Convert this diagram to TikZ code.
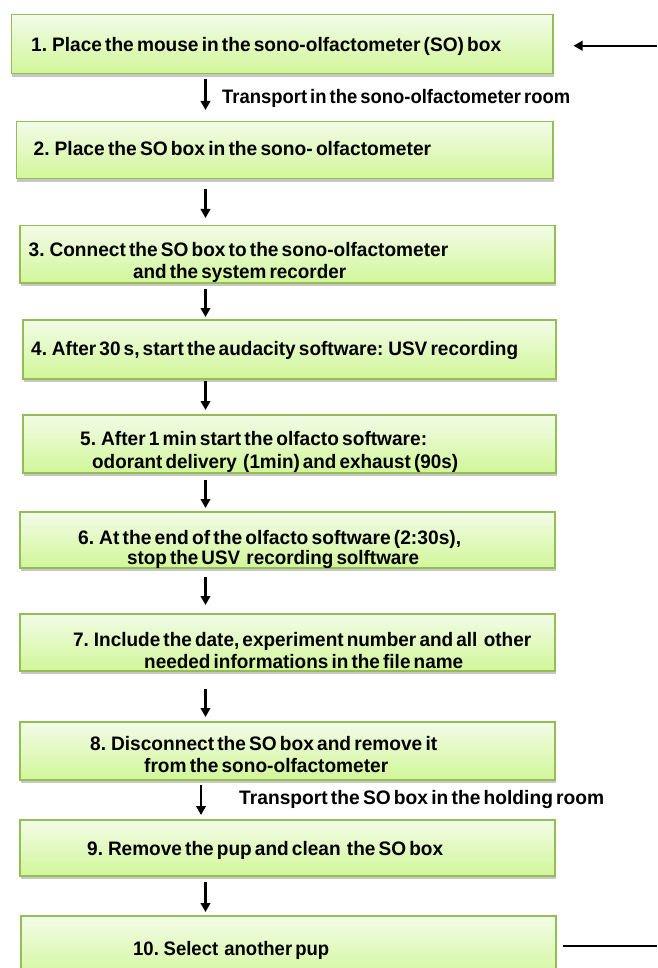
\documentclass[tikz,border=0pt]{standalone}
\usepackage{fontspec}
\setmainfont{Liberation Sans}[WordSpace=0.6]
\usetikzlibrary{arrows.meta,shadows,calc}
\newsavebox\fitbox
\newcommand\fitto[2]{\sbox\fitbox{#2}\pgfmathsetmacro\fitfac{#1/\the\wd\fitbox}\scalebox{\fitfac}[1]{\usebox\fitbox}}
\definecolor{boxtop}{HTML}{F2FCE8}
\definecolor{boxbot}{HTML}{D2F699}
\definecolor{boxline}{HTML}{93BD55}
\tikzset{
  stepbox/.style={rectangle, draw=boxline, line width=1.5pt, top color=boxtop, bottom color=boxbot,
    inner sep=0pt, anchor=north west,
    drop shadow={shadow xshift=1pt, shadow yshift=-3pt, fill=black, opacity=0.22}},
  txt/.style={inner sep=0pt, anchor=base west, font=\fontsize{19.5}{22}\selectfont\bfseries},
  arr/.style={line width=2.4pt, -{Triangle[length=9pt,width=9.5pt]}},
  back/.style={line width=2.4pt}
}
\begin{document}
\begin{tikzpicture}[x=1pt,y=-1pt]
\useasboundingbox[fill=white] (0,0) rectangle (657,968);
\coordinate (edge) at (657,0);
\coordinate (ax) at (205.5,0);
\coordinate (bx) at (201,0);
% boxes
\node[stepbox, minimum width=541.5, minimum height=59] (b1) at (10.5,14) {};
\node[stepbox, minimum width=536.5, minimum height=57] (b2) at (15.5,121) {};
\node[stepbox, minimum width=535, minimum height=57] (b3) at (19,225) {};
\node[stepbox, minimum width=533, minimum height=59] (b4) at (22,319) {};
\node[stepbox, minimum width=533, minimum height=58] (b5) at (22,414) {};
\node[stepbox, minimum width=535, minimum height=56] (b6) at (19,511) {};
\node[stepbox, minimum width=535, minimum height=57] (b7) at (19,613) {};
\node[stepbox, minimum width=535, minimum height=58] (b8) at (19,721) {};
\node[stepbox, minimum width=535, minimum height=56] (b9) at (19,819) {};
\node[stepbox, minimum width=535, minimum height=66] (b10) at (20,915) {};
% texts
\node[txt] (t1) at (31,52) {\fitto{470}{1. Place the mouse in the sono-olfactometer (SO) box}};
\node[txt] (l1) at (222,104) {\fitto{348}{Transport in the sono-olfactometer room}};
\node[txt] (t2) at (33.5,156) {\fitto{397.5}{2. Place the SO box in the sono- olfactometer}};
\node[txt] (t3a) at (28.5,256) {\fitto{419.5}{3. Connect the SO box to the sono-olfactometer}};
\node[txt] (t3b) at (133,278) {\fitto{213}{and the system recorder}};
\node[txt] (t4) at (31,355) {\fitto{487}{4. After 30 s, start the audacity software: USV recording}};
\node[txt] (t5a) at (80,445) {\fitto{347}{5. After 1 min start the olfacto software:}};
\node[txt] (t5b) at (92,468) {\fitto{366}{odorant delivery\ \ (1min) and exhaust (90s)}};
\node[txt] (t6a) at (78,544) {\fitto{383}{6. At the end of the olfacto software (2:30s),}};
\node[txt] (t6b) at (127,564) {\fitto{292}{stop the USV\ \ recording solftware}};
\node[txt] (t7a) at (73,646) {\fitto{458}{7. Include the date, experiment number and all\ \ other}};
\node[txt] (t7b) at (144,668) {\fitto{319}{needed informations in the file name}};
\node[txt] (t8a) at (90,750) {\fitto{347}{8. Disconnect the SO box and remove it}};
\node[txt] (t8b) at (144,772) {\fitto{244}{from the sono-olfactometer}};
\node[txt] (l2) at (239,804) {\fitto{365}{Transport the SO box in the holding room}};
\node[txt] (t9) at (87,855) {\fitto{356}{9. Remove the pup and clean\ \ the SO box}};
\node[txt] (t10) at (133,955) {\fitto{196}{10. Select\ \ another pup}};
% connectors
\draw[arr] ([yshift=-5pt]b1.south -| ax) -- ([yshift=11pt]b2.north -| ax);
\draw[arr] ([yshift=-10pt]b2.south -| ax) -- ([yshift=7pt]b3.north -| ax);
\draw[arr] ([yshift=-5pt]b3.south -| ax) -- ([yshift=2pt]b4.north -| ax);
\draw[arr] ([yshift=-1.5pt]b4.south -| ax) -- ([yshift=4pt]b5.north -| ax);
\draw[arr] ([yshift=-6pt]b5.south -| ax) -- ([yshift=3pt]b6.north -| ax);
\draw[arr] ([yshift=-8pt]b6.south -| ax) -- ([yshift=8pt]b7.north -| ax);
\draw[arr] ([yshift=-17pt]b7.south -| ax) -- ([yshift=4pt]b8.north -| ax);
\draw[arr] ([yshift=-4pt]b8.south -| bx) -- ([yshift=4pt]b9.north -| bx);
\draw[arr] ([yshift=-5pt]b9.south -| ax) -- ([yshift=3pt]b10.north -| ax);
% loop back
\draw[arr] ([yshift=-1.5pt]b1.east -| edge) -- ([xshift=20pt,yshift=-1.5pt]b1.east);
\draw[back] ([xshift=6pt,yshift=3pt]b10.east) -- ([yshift=3pt]b10.east -| edge);
\end{tikzpicture}
\end{document}
